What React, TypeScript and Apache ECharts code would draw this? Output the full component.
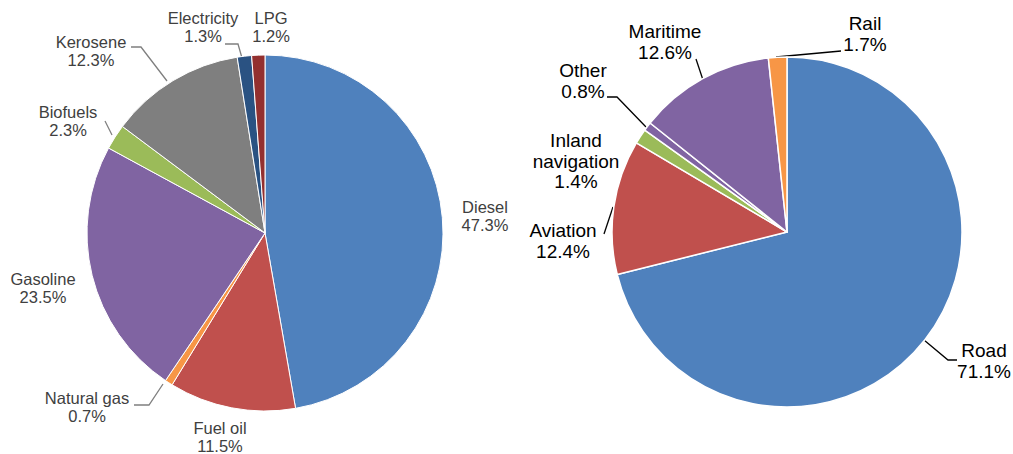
import React, { useEffect, useRef } from "react";
import * as echarts from "echarts";

// Left pie: fuels
const fuelNames = ["Diesel", "Fuel oil", "Natural gas", "Gasoline", "Biofuels", "Kerosene", "Electricity", "LPG"];
const fuelValues = [47.3, 11.5, 0.7, 23.5, 2.3, 12.3, 1.3, 1.2];
const fuelColors = ["#4F81BD", "#C0504D", "#F79646", "#8064A2", "#9BBB59", "#7F7F7F", "#2A5282", "#93302F"];

// Right pie: modes
const modeNames = ["Road", "Aviation", "Inland\nnavigation", "Other", "Maritime", "Rail"];
const modeValues = [71.1, 12.4, 1.4, 0.8, 12.6, 1.7];
const modeColors = ["#4F81BD", "#C0504D", "#9BBB59", "#8064A2", "#8064A2", "#F79646"];

// Label layout (positions only): [x, y, linePoints]
const fuelLabelLayout: [number, number, number[][] | null][] = [
  [485, 216, null],
  [220, 437, null],
  [87, 407, [[134, 405], [149, 405], [163, 384]]],
  [43, 288, null],
  [68, 121, [[105, 121], [112, 135]]],
  [91, 51, [[131, 47], [141, 47], [167, 81]]],
  [203, 27, [[225, 44], [238, 44], [242, 58]]],
  [271, 27, null],
];

const modeLabelLayout: [number, number, number[][] | null][] = [
  [984, 361, [[957, 360], [948, 360], [924, 340]]],
  [563, 241, [[604, 234], [613, 207]]],
  [576, 161, null],
  [583, 81, [[607, 97], [617, 97], [646, 127]]],
  [665, 42, [[696, 59], [703, 80]]],
  [865, 34, [[841, 51], [776, 57]]],
];

export default function App() {
  const ref = useRef<HTMLDivElement>(null);
  useEffect(() => {
    if (!ref.current) return;
    const chart = echarts.init(ref.current, null, { renderer: "svg" });
    const mkLayout = (layout: [number, number, number[][] | null][]) => (p: any) => {
      const l = layout[p.dataIndex];
      const r: any = { x: l[0], y: l[1], align: "center", verticalAlign: "middle" };
      r.labelLinePoints = l[2] ? l[2] : [[l[0], l[1]], [l[0], l[1]]];
      return r;
    };
    chart.setOption({
      animation: false,
      backgroundColor: "#fff",
      series: [
        {
          type: "pie",
          center: [265, 233],
          radius: 178,
          startAngle: 90,
          clockwise: true,
          avoidLabelOverlap: false,
          data: fuelNames.map((n, i) => ({ name: n, value: fuelValues[i], itemStyle: { color: fuelColors[i] } })),
          itemStyle: { borderColor: "#fff", borderWidth: 1 },
          label: {
            show: true,
            position: "outside",
            formatter: (p: any) => `${p.name}\n${p.value}%`,
            fontFamily: "Liberation Sans, Arial, sans-serif",
            fontSize: 16.5,
            lineHeight: 18.5,
            color: "#404040",
            align: "center",
          },
          labelLine: { show: true, lineStyle: { color: "#7f7f7f", width: 1.3 } },
          labelLayout: mkLayout(fuelLabelLayout),
          emphasis: { disabled: true },
        },
        {
          type: "pie",
          center: [787, 232],
          radius: 175,
          startAngle: 90,
          clockwise: true,
          avoidLabelOverlap: false,
          data: modeNames.map((n, i) => ({ name: n, value: modeValues[i], itemStyle: { color: modeColors[i] } })),
          itemStyle: { borderColor: "#fff", borderWidth: 1.5 },
          label: {
            show: true,
            position: "outside",
            formatter: (p: any) => `${p.name}\n${p.value}%`,
            fontFamily: "Liberation Sans, Arial, sans-serif",
            fontSize: 19,
            lineHeight: 20.5,
            color: "#000",
            align: "center",
          },
          labelLine: { show: true, lineStyle: { color: "#000", width: 1.3 } },
          labelLayout: mkLayout(modeLabelLayout),
          emphasis: { disabled: true },
        },
      ],
    });
    return () => chart.dispose();
  }, []);
  return <div ref={ref} style={{ width: 1013, height: 454, position: "absolute", left: 0, top: 0 }} />;
}
